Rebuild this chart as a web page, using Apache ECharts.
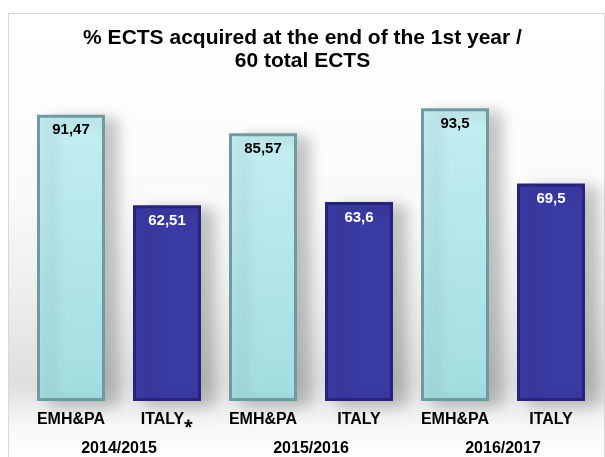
<!DOCTYPE html>
<html>
<head>
<meta charset="utf-8">
<script src="https://cdn.jsdelivr.net/npm/echarts@6/dist/echarts.min.js"></script>
<style>
html,body{margin:0;padding:0;width:605px;height:457px;overflow:hidden;background:#fff;}
#frame{position:absolute;left:8px;top:13px;width:595px;height:450px;border:1px solid #d8d8d8;
background:linear-gradient(to bottom,#ffffff 0%,#fafafa 40%,#eeeeee 62%,#dedede 82%,#e8e8e8 86%,#f8f8f8 92%,#ffffff 100%);}
#chart{position:absolute;left:0;top:0;width:605px;height:457px;}
</style>
</head>
<body>
<div id="frame"></div>
<div id="chart"></div>
<script>
const titleLines = ['% ECTS acquired at the end of the 1st year /', '60 total ECTS'];
const categories = ['EMH&PA', 'ITALY*', 'EMH&PA', 'ITALY', 'EMH&PA', 'ITALY'];
const groups = ['EMH', 'ITA', 'EMH', 'ITA', 'EMH', 'ITA'];
const values = [91.47, 62.51, 85.57, 63.6, 93.5, 69.5];
const years = ['2014/2015', '2015/2016', '2016/2017'];

const FONT = 'Liberation Sans, Arial, sans-serif';
const styles = {
  EMH: {
    item: {
      color: {type:'linear',x:0,y:0,x2:0,y2:1,colorStops:[{offset:0,color:'#c4eef2'},{offset:1,color:'#a2dde0'}]},
      borderColor: '#6e9c9e', borderWidth: 3,
      shadowColor: 'rgba(0,0,0,0.22)', shadowBlur: 14, shadowOffsetX: 12, shadowOffsetY: 4
    },
    label: '#000000'
  },
  ITA: {
    item: {
      color: '#3a3aa4',
      borderColor: '#24247a', borderWidth: 3,
      shadowColor: 'rgba(0,0,0,0.22)', shadowBlur: 14, shadowOffsetX: 12, shadowOffsetY: 4
    },
    label: '#ffffff'
  }
};

const data = values.map((v, i) => ({
  value: v,
  itemStyle: styles[groups[i]].item,
  label: { color: styles[groups[i]].label }
}));

const chart = echarts.init(document.getElementById('chart'));
chart.setOption({
  animation: false,
  title: {
    text: titleLines.join('\n'),
    left: 'center', top: 22,
    textStyle: { fontFamily: FONT, fontWeight: 'bold', fontSize: 21, lineHeight: 23, color: '#000' }
  },
  grid: { left: 23, right: 6, top: 88, bottom: 56 },
  xAxis: [{
    type: 'category', data: categories,
    axisLine: { show: false }, axisTick: { show: false },
    axisLabel: {
      margin: 11,
      fontFamily: FONT, fontWeight: 'bold', fontSize: 16, color: '#000',
      formatter: function (v) { return v.endsWith('*') ? v.slice(0, -1) + '\u204E' : v; }
    }
  }, {
    type: 'category', data: years, position: 'bottom', offset: 32,
    axisLine: { show: false }, axisTick: { show: false },
    axisLabel: { fontFamily: FONT, fontWeight: 'bold', fontSize: 16, color: '#000' }
  }],
  yAxis: { type: 'value', min: 0, max: 100, show: false, splitLine: { show: false } },
  series: [{
    type: 'bar', data: data, barWidth: 68, xAxisIndex: 0,
    label: {
      show: true, position: 'insideTop', distance: 8,
      fontFamily: FONT, fontWeight: 'bold', fontSize: 15,
      formatter: p => String(p.value).replace('.', ',')
    }
  }]
});
</script>
</body>
</html>
